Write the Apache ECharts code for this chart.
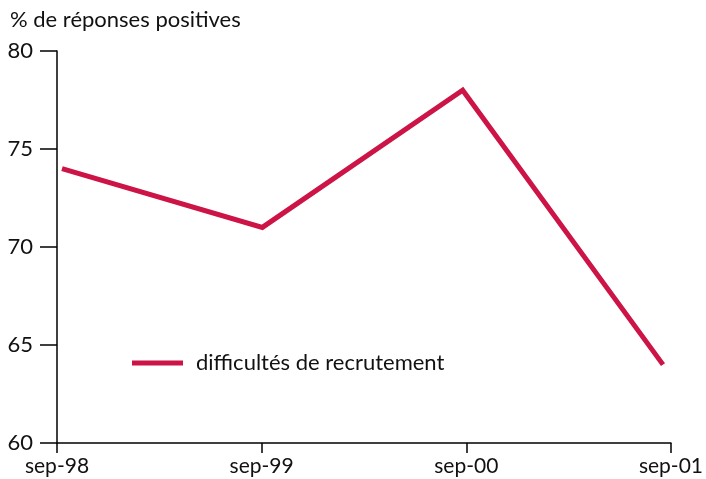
<!DOCTYPE html>
<html>
<head>
<meta charset="utf-8">
<script src="https://cdn.jsdelivr.net/npm/echarts@6/dist/echarts.min.js"></script>
<style>
  html, body { margin: 0; padding: 0; background: #fff; }
  #chart { width: 706px; height: 479px; }
</style>
</head>
<body>
<div id="chart"></div>
<script>
// sept. de chaque année
const categories = ['sep-98', 'sep-99', 'sep-00', 'sep-01']
const recrutement = [74, 71, 78, 64]
const seriesName = 'difficultés de recrutement'

const font = 'Lato, "Open Sans", sans-serif'
const red = '#cc1446'

const chart = echarts.init(document.getElementById('chart'))

chart.setOption({
  animation: false,
  backgroundColor: '#fff',
  textStyle: { fontFamily: font },
  grid: [
    // visible axes
    { left: 57, right: 33, top: 51, bottom: 36 },
    // the line sits a bit inside the axis ticks
    { left: 62, right: 43, top: 51, bottom: 36 },
  ],
  legend: {
    left: 132,
    top: 351,
    padding: 0,
    icon: 'rect',
    itemWidth: 51,
    itemHeight: 5,
    itemGap: 10,
    textStyle: { fontFamily: font, fontSize: 22, lineHeight: 24, color: '#111', padding: [0, 0, 0, 8] },
    data: [seriesName],
  },
  xAxis: [
    {
      type: 'category',
      gridIndex: 0,
      data: categories,
      boundaryGap: false,
      axisLine: { lineStyle: { color: '#000', width: 1.5 } },
      axisTick: { length: 10, lineStyle: { color: '#000', width: 1.5 } },
      axisLabel: { color: '#111', fontSize: 21, margin: 13, fontFamily: font },
      splitLine: { show: false },
    },
    {
      type: 'category',
      gridIndex: 1,
      data: categories,
      boundaryGap: false,
      show: false,
    },
  ],
  yAxis: [
    {
      type: 'value',
      gridIndex: 0,
      min: 60,
      max: 80,
      interval: 5,
      name: '% de réponses positives',
      nameLocation: 'end',
      nameGap: 20,
      nameTextStyle: { color: '#111', fontSize: 22, align: 'left', padding: [0, 0, 0, -47], fontFamily: font },
      axisLine: { show: true, lineStyle: { color: '#000', width: 1.5 } },
      axisTick: { show: true, length: 17, lineStyle: { color: '#000', width: 1.5 } },
      axisLabel: { color: '#111', fontSize: 22, margin: 24, fontFamily: font },
      splitLine: { show: false },
    },
    {
      type: 'value',
      gridIndex: 1,
      min: 60,
      max: 80,
      interval: 5,
      show: false,
    },
  ],
  series: [
    {
      name: seriesName,
      type: 'line',
      xAxisIndex: 1,
      yAxisIndex: 1,
      data: recrutement,
      symbol: 'none',
      itemStyle: { color: red },
      lineStyle: { color: red, width: 5, cap: 'butt', join: 'miter' },
    },
  ],
})
</script>
</body>
</html>
